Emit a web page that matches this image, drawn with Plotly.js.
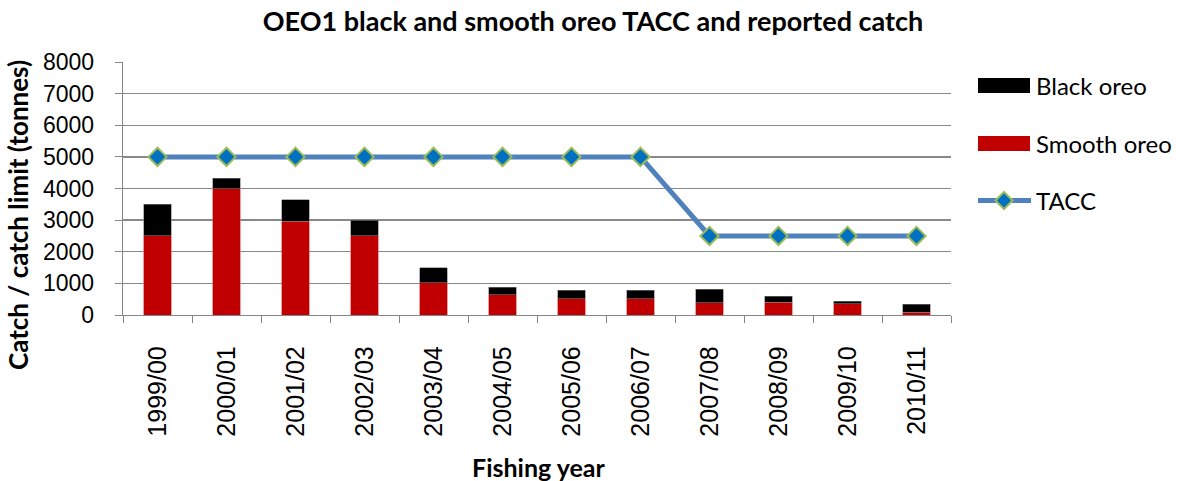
<!DOCTYPE html>
<html>
<head>
<meta charset="utf-8">
<script src="https://cdn.plot.ly/plotly-3.0.1.min.js"></script>
<style>
  html, body { margin: 0; padding: 0; background: #fff; }
  #chart { width: 1186px; height: 481px; }
</style>
</head>
<body>
<div id="chart"></div>
<script>
// Fishing years
const years = ['1999/00', '2000/01', '2001/02', '2002/03', '2003/04', '2004/05',
               '2005/06', '2006/07', '2007/08', '2008/09', '2009/10', '2010/11'];

// Reported catch (tonnes)
const smoothOreo = [2500, 4000, 2960, 2500, 1020, 640, 515, 515, 390, 410, 360, 85];
const blackOreo  = [1000, 330, 690, 500, 475, 245, 265, 265, 430, 180, 70, 250];

// Total allowable commercial catch (tonnes)
const tacc = [5000, 5000, 5000, 5000, 5000, 5000, 5000, 5000, 2500, 2500, 2500, 2500];

const FONT = 'Lato, "Open Sans", "Liberation Sans", sans-serif';
const TICKFONT = '"Liberation Sans", Arial, sans-serif';
const W = 1186, H = 481;
const M = { l: 123, r: 235, t: 62, b: 166 };

const traces = [
  {
    type: 'bar', name: 'Smooth oreo', x: years, y: smoothOreo,
    marker: { color: '#C00000', line: { color: '#E06060', width: 0.6 } },
    showlegend: false
  },
  {
    type: 'bar', name: 'Black oreo', x: years, y: blackOreo,
    marker: { color: '#000000', line: { color: '#7F7F7F', width: 0.6 } },
    showlegend: false
  },
  {
    type: 'scatter', mode: 'lines+markers', name: 'TACC', x: years, y: tacc,
    line: { color: '#4F81BD', width: 5 },
    marker: { symbol: 'diamond', size: 14, color: '#0070C0',
              line: { color: '#9BBB59', width: 2 } },
    showlegend: false
  }
];

// Pixel position -> paper units
const px = x => (x - M.l) / (W - M.l - M.r);
const py = y => 1 - (y - M.t) / (H - M.t - M.b);

// Legend drawn beside the plot
const legendItems = [
  { name: 'Black oreo', kind: 'bar', color: '#000000', y: 85.5 },
  { name: 'Smooth oreo', kind: 'bar', color: '#C00000', y: 143.5 },
  { name: 'TACC', kind: 'line', color: '#4F81BD', y: 200.5 }
];

const shapes = [];
const annotations = [];
legendItems.forEach(it => {
  if (it.kind === 'bar') {
    shapes.push({
      type: 'rect', xref: 'paper', yref: 'paper',
      x0: px(978), x1: px(1030), y0: py(it.y - 7.5), y1: py(it.y + 7.5),
      fillcolor: it.color, line: { width: 0 }
    });
  } else {
    shapes.push({
      type: 'line', xref: 'paper', yref: 'paper',
      x0: px(978), x1: px(1031), y0: py(it.y), y1: py(it.y),
      line: { color: it.color, width: 5 }
    });
    shapes.push({
      type: 'path', xref: 'paper', yref: 'paper',
      path: `M${px(1004)},${py(it.y - 8.5)} L${px(1012.5)},${py(it.y)} L${px(1004)},${py(it.y + 8.5)} L${px(995.5)},${py(it.y)} Z`,
      fillcolor: '#0070C0', line: { color: '#9BBB59', width: 2 }
    });
  }
  annotations.push({
    xref: 'paper', yref: 'paper', x: px(1034), y: py(it.y),
    xanchor: 'left', yanchor: 'middle', showarrow: false,
    text: it.name, font: { family: FONT, size: 24, color: '#000' }
  });
});

// Axis titles
annotations.push({
  xref: 'paper', yref: 'paper', x: px(18), y: py(215),
  xanchor: 'center', yanchor: 'middle', showarrow: false, textangle: -90,
  text: '<b>Catch / catch limit (tonnes)</b>',
  font: { family: FONT, size: 26, color: '#000' }
});
annotations.push({
  xref: 'paper', yref: 'paper', x: px(538), y: py(467),
  xanchor: 'center', yanchor: 'middle', showarrow: false,
  text: '<b>Fishing year</b>',
  font: { family: FONT, size: 25, color: '#000' }
});

const layout = {
  width: W, height: H,
  margin: M,
  paper_bgcolor: '#fff', plot_bgcolor: '#fff',
  barmode: 'stack',
  bargap: 0.6,
  showlegend: false,
  title: {
    text: '<b>OEO1 black and smooth oreo TACC and reported catch</b>',
    font: { family: FONT, size: 27, color: '#000' },
    x: 0.5, xref: 'container', xanchor: 'center',
    y: 0.955, yanchor: 'middle'
  },
  xaxis: {
    type: 'category',
    automargin: false,
    range: [-0.5, years.length - 0.5],
    tickangle: -90,
    tickfont: { family: TICKFONT, size: 25, color: '#000' },
    ticks: 'outside', ticklen: 7, tickcolor: '#868686', tickson: 'boundaries',
    ticklabelstandoff: 20,
    showline: true, linecolor: '#868686', linewidth: 1.3,
    showgrid: false
  },
  yaxis: {
    automargin: false,
    range: [0, 8000],
    dtick: 1000,
    tickfont: { family: TICKFONT, size: 23, color: '#000' },
    ticks: 'outside', ticklen: 7, tickcolor: '#868686',
    ticklabelstandoff: 16,
    showline: true, linecolor: '#868686', linewidth: 1.3,
    showgrid: true, gridcolor: '#898989', gridwidth: 1.3,
    zeroline: false
  },
  shapes: shapes,
  annotations: annotations
};

Plotly.newPlot('chart', traces, layout, { displayModeBar: false, staticPlot: true });
</script>
</body>
</html>
